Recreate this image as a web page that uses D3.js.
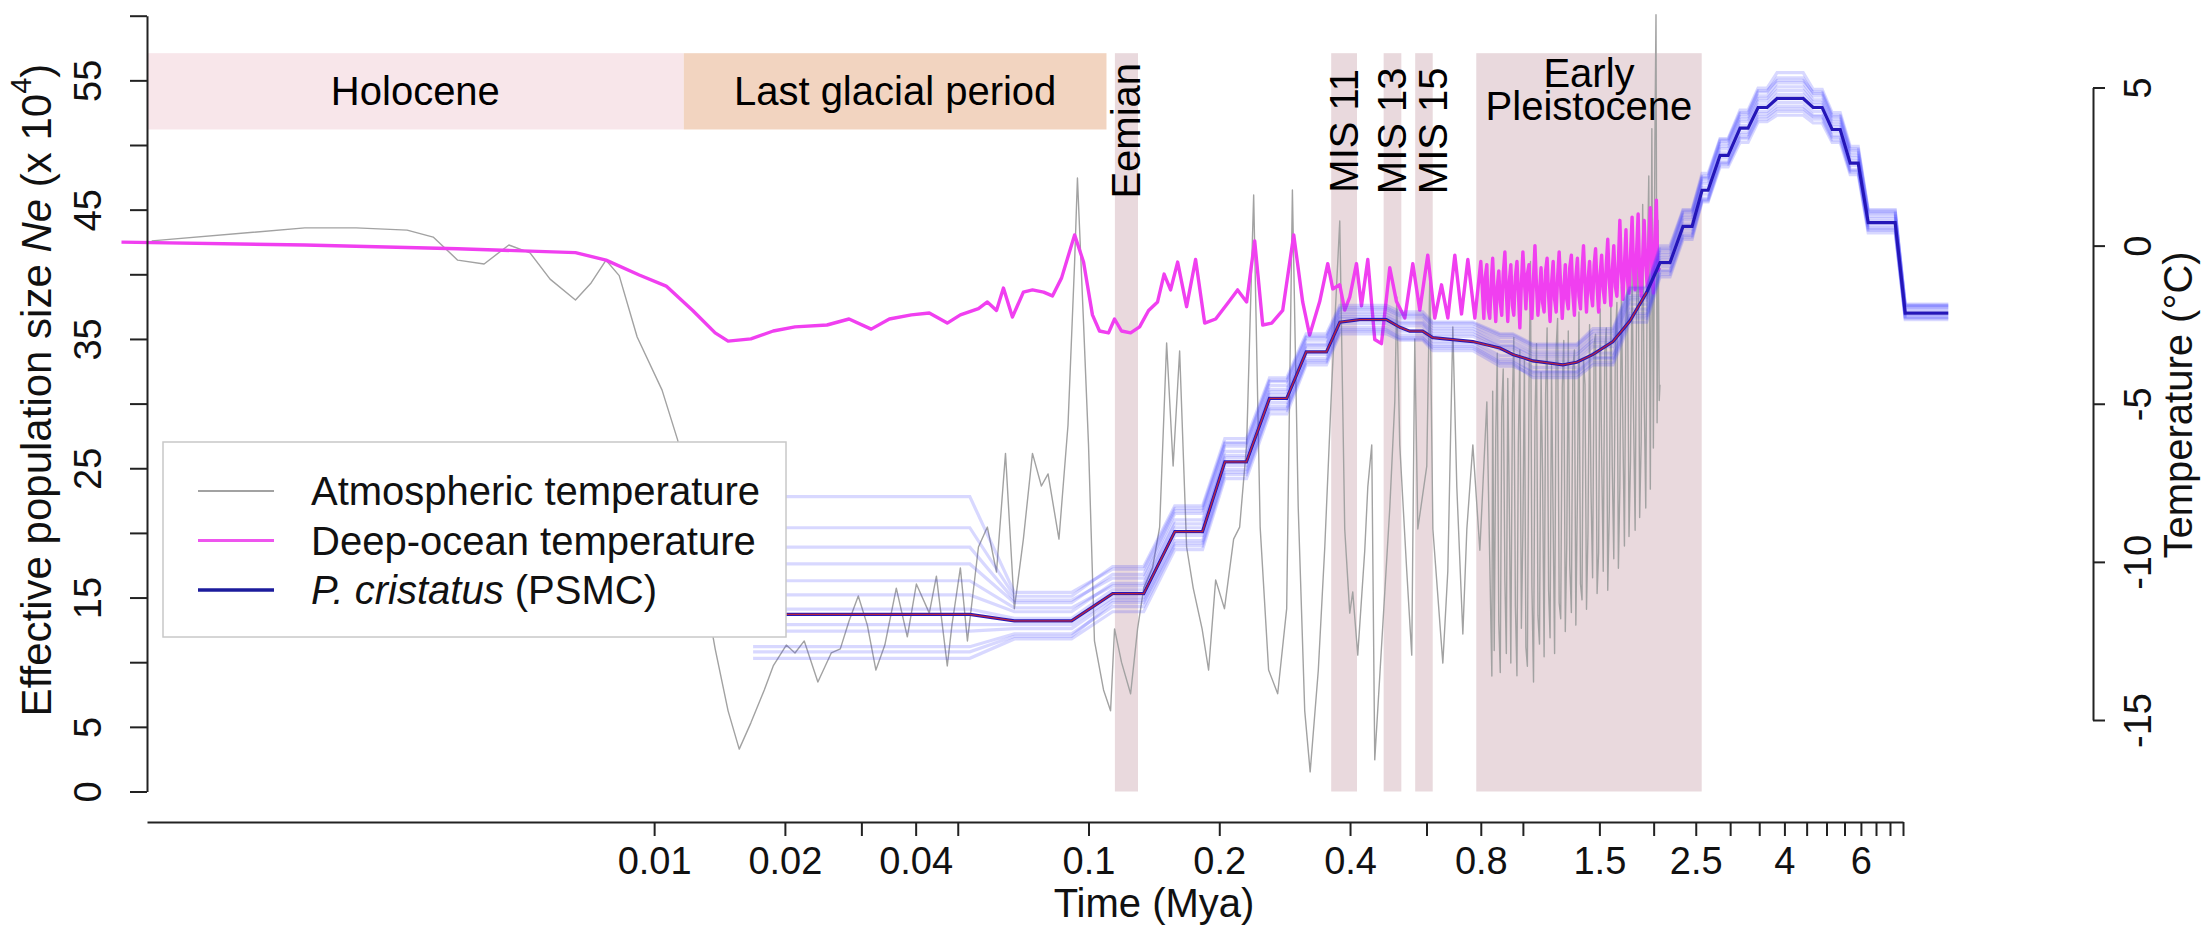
<!DOCTYPE html>
<html>
<head>
<meta charset="utf-8">
<script src="https://cdn.jsdelivr.net/npm/d3@7"></script>
<style>
  body { margin: 0; background: #fff; }
  svg { display: block; font-family: "Liberation Sans", Arial, Helvetica, sans-serif; }
</style>
</head>
<body>
<div id="wrapper"></div>
<script>
// ---- data (time in Mya, Ne in x 10^4, temperature in °C) ----

// climate periods shown as shaded bands
const periodNames = ["Holocene", "Last glacial period", "Eemian", "MIS 11", "MIS 13", "MIS 15", "Early Pleistocene"]
const periodStart = [0.00068, 0.0117, 0.115, 0.362, 0.478, 0.565, 0.781]
const periodEnd = [0.0117, 0.11, 0.13, 0.415, 0.525, 0.62, 2.58]
const periodNeLow = [51.2, 51.2, 0, 0, 0, 0, 0]
const periodNeHigh = [57.1, 57.1, 57.1, 57.1, 57.1, 57.1, 57.1]

// axis ticks
const xTicks = [0.01, 0.02, 0.03, 0.04, 0.05, 0.1, 0.2, 0.4, 0.6, 0.8, 1, 1.5, 2, 2.5, 3, 3.5, 4, 4.5, 5, 5.5, 6, 6.5, 7, 7.5]
const xTickLabels = [0.01, 0.02, 0.04, 0.1, 0.2, 0.4, 0.8, 1.5, 2.5, 4, 6]
const yTicks = [0, 5, 10, 15, 20, 25, 30, 35, 40, 45, 50, 55, 60]
const yTickLabels = [0, 5, 15, 25, 35, 45, 55]
const tempTicks = [-15, -10, -5, 0, 5]

// atmospheric temperature [time, °C]
const atmosphericTemp = [
  [0.000697, 0.15], [0.00157, 0.56], [0.00206, 0.56], [0.0027, 0.49], [0.0031, 0.27], [0.00353, -0.46],
  [0.00406, -0.58], [0.00463, 0.02], [0.00518, -0.23], [0.00576, -1.06], [0.00659, -1.72], [0.00716, -1.18],
  [0.00775, -0.46], [0.00831, -0.95], [0.00914, -2.89], [0.01043, -4.57], [0.01133, -6.15], [0.01256, -9.53],
  [0.01382, -12.75], [0.0148, -14.71], [0.0157, -15.92], [0.0167, -15.09], [0.01793, -14.05], [0.0188, -13.29],
  [0.02015, -12.63], [0.0211, -12.88], [0.02216, -12.5], [0.02382, -13.8], [0.02557, -12.88], [0.02683, -12.75],
  [0.0281, -11.87], [0.02951, -11.08], [0.03096, -12.0], [0.0324, -13.42], [0.03397, -12.63], [0.0361, -10.83],
  [0.03827, -12.37], [0.04015, -10.7], [0.043, -11.62], [0.04465, -10.45], [0.0473, -13.29], [0.04849, -11.99],
  [0.0507, -10.19], [0.05263, -12.5], [0.0558, -9.53], [0.0585, -8.9], [0.0614, -10.32], [0.0644, -6.57],
  [0.0675, -11.48], [0.0708, -9.28], [0.0743, -6.57], [0.0779, -7.6], [0.0807, -7.22], [0.0855, -9.28],
  [0.0897, -5.67], [0.0929, -0.52], [0.0943, 2.14], [0.0974, -2.45], [0.1, -6.3], [0.1032, -12.5],
  [0.1083, -14.05], [0.1124, -14.71], [0.1148, -12.12], [0.1191, -13.17], [0.125, -14.17], [0.1297, -12.12],
  [0.134, -10.83], [0.1404, -10.19], [0.1458, -8.9], [0.1513, -3.08], [0.1566, -6.97], [0.1621, -3.33],
  [0.1682, -9.53], [0.1742, -10.83], [0.1826, -12.12], [0.189, -13.42], [0.1962, -10.57], [0.2056, -11.48],
  [0.2158, -9.28], [0.2228, -8.9], [0.2312, -6.3], [0.24, 1.6], [0.2484, -8.9], [0.2598, -13.42],
  [0.2726, -14.17], [0.2859, -11.48], [0.2947, 1.76], [0.3039, -8.25], [0.3146, -14.71], [0.3238, -16.64],
  [0.3381, -13.42], [0.3499, -9.53], [0.3631, -4.38], [0.3788, 0.78], [0.3889, -8.96], [0.3994, -11.62],
  [0.4058, -10.95], [0.4167, -12.95], [0.4325, -9.63], [0.4395, -7.63], [0.4488, -6.3], [0.456, -16.26],
  [0.4683, -13.61], [0.4809, -10.95], [0.4938, -8.3], [0.5071, -4.94], [0.5125, -1.62], [0.5206, -6.3],
  [0.5403, -10.29], [0.5548, -12.95], [0.5638, -2.95], [0.5729, -8.96], [0.6008, -6.97], [0.6105, -0.96],
  [0.6205, -8.96], [0.6542, -13.2], [0.6717, -10.29], [0.6897, -2.57], [0.7045, -7.63], [0.7274, -12.28],
  [0.743, -8.96], [0.767, -6.3], [0.796, -9.63], [0.8261, -4.94], [0.8483, -13.61],
  [0.852, -4.6], [0.859, -12.8], [0.866, -6.0], [0.873, -3.4], [0.88, -11.9], [0.887, -13.5], [0.894, -5.1],
  [0.901, -3.9], [0.909, -10.6], [0.916, -12.9], [0.923, -4.2], [0.931, -8.5], [0.938, -13.2], [0.946, -4.8],
  [0.953, -2.9], [0.961, -11.4], [0.969, -13.6], [0.976, -6.3], [0.984, -3.3], [0.992, -12.1], [1.0, -9.0],
  [1.008, -3.6], [1.016, -12.7], [1.024, -13.3], [1.033, -4.4], [1.041, -0.5], [1.049, -10.8], [1.058, -13.8],
  [1.066, -5.5], [1.075, -3.1], [1.083, -11.7], [1.092, -12.6], [1.101, -4.0], [1.11, -7.2], [1.119, -13.0],
  [1.128, -4.7], [1.137, -2.6], [1.146, -10.9], [1.155, -12.4], [1.164, -3.8], [1.174, -8.8], [1.183, -12.9],
  [1.193, -3.2], [1.202, -2.3], [1.212, -11.3], [1.222, -11.8], [1.232, -4.5], [1.242, -3.0], [1.252, -12.2],
  [1.262, -9.4], [1.272, -2.7], [1.282, -10.1], [1.293, -11.6], [1.303, -3.9], [1.314, -3.3], [1.324, -12.0],
  [1.335, -8.0], [1.346, -2.1], [1.357, -10.7], [1.368, -11.2], [1.379, -3.6], [1.39, -4.4], [1.401, -11.5],
  [1.412, -9.1], [1.424, -2.5], [1.435, -7.8], [1.447, -10.5], [1.459, -3.1], [1.47, -2.8], [1.482, -11.0],
  [1.494, -9.7], [1.506, -2.0], [1.518, -6.5], [1.531, -10.3], [1.543, -3.4], [1.556, -2.6], [1.568, -10.9],
  [1.581, -8.4], [1.594, -1.6], [1.606, -7.0], [1.619, -9.9], [1.633, -2.9], [1.646, -1.8], [1.659, -10.2],
  [1.672, -7.6], [1.686, -1.3], [1.7, -6.1], [1.713, -9.5], [1.727, -2.4], [1.741, -1.0], [1.755, -9.2],
  [1.769, -6.8], [1.784, -0.6], [1.798, -5.4], [1.813, -9.0], [1.827, -1.9], [1.842, 0.4], [1.857, -8.6],
  [1.872, -6.2], [1.887, 1.3], [1.902, -4.8], [1.918, -8.3], [1.933, -0.9], [1.949, 2.2], [1.965, -7.7],
  [1.981, 3.7], [1.997, -6.4], [2.013, 3.2], [2.025, 7.3], [2.037, -5.6], [2.048, 0.8], [2.06, -4.9], [2.068, -4.4]
]

// deep-ocean temperature [time, °C]
const deepOceanTemp = [
  [0.000594, 0.11], [0.00157, 0.02], [0.00353, -0.1], [0.00659, -0.22], [0.00775, -0.46], [0.00924, -0.93],
  [0.01066, -1.28], [0.01227, -2.05], [0.01382, -2.76], [0.0148, -3.02], [0.0167, -2.95], [0.0188, -2.7],
  [0.0211, -2.57], [0.025, -2.51], [0.0281, -2.32], [0.0316, -2.64], [0.0348, -2.32], [0.0391, -2.19],
  [0.043, -2.13], [0.0473, -2.45], [0.0507, -2.19], [0.0558, -1.99], [0.0585, -1.78], [0.0614, -2.05],
  [0.0637, -1.34], [0.0668, -2.26], [0.0708, -1.47], [0.0743, -1.4], [0.0788, -1.47], [0.0826, -1.59],
  [0.0867, -1.02], [0.0929, 0.34], [0.0974, -0.52], [0.1021, -2.19], [0.106, -2.7], [0.1112, -2.76],
  [0.1148, -2.32], [0.1191, -2.7], [0.125, -2.76], [0.1311, -2.57], [0.1375, -2.05], [0.1442, -1.78],
  [0.1493, -0.9], [0.1545, -1.4], [0.1604, -0.52], [0.1682, -1.93], [0.1764, -0.44], [0.1851, -2.45],
  [0.1962, -2.32], [0.2102, -1.78], [0.2204, -1.4], [0.2312, -1.78], [0.2413, 0.15], [0.2518, -2.51],
  [0.2641, -2.45], [0.2799, -2.05], [0.2968, 0.34], [0.3112, -1.78], [0.3229, -2.83], [0.3406, -1.77],
  [0.3554, -0.57], [0.365, -1.37], [0.3788, -1.24], [0.3889, -2.04], [0.3994, -1.63], [0.4139, -0.57],
  [0.425, -1.9], [0.4395, -0.44], [0.456, -2.97], [0.4725, -3.1], [0.4938, -0.7], [0.5117, -1.77],
  [0.5348, -2.29], [0.5579, -0.57], [0.579, -2.04], [0.604, -0.3], [0.6268, -2.29], [0.6496, -1.24],
  [0.6717, -2.29], [0.6971, -0.3], [0.7223, -2.16], [0.7469, -0.44], [0.7752, -2.29],
  [0.8, -0.5], [0.806, -1.3], [0.813, -2.3], [0.819, -1.0], [0.826, -0.6], [0.832, -2.0], [0.839, -2.3],
  [0.846, -1.1], [0.852, -0.4], [0.859, -1.6], [0.866, -2.4], [0.873, -1.3], [0.88, -0.8], [0.887, -1.8],
  [0.894, -2.2], [0.901, -0.9], [0.909, -0.2], [0.916, -1.5], [0.923, -2.4], [0.931, -1.1], [0.938, -0.6],
  [0.946, -1.9], [0.953, -2.2], [0.961, -1.0], [0.969, -0.5], [0.976, -1.4], [0.984, -2.6], [0.992, -1.2],
  [1.0, -0.2], [1.008, -1.1], [1.016, -2.0], [1.024, -0.9], [1.033, -0.6], [1.041, -1.7], [1.049, -2.3],
  [1.058, -1.0], [1.066, 0.0], [1.075, -1.3], [1.083, -2.2], [1.092, -1.5], [1.101, -0.7], [1.11, -1.8],
  [1.119, -2.1], [1.128, -0.8], [1.137, -0.4], [1.146, -1.6], [1.155, -2.4], [1.164, -1.2], [1.174, -0.5],
  [1.183, -1.7], [1.193, -2.1], [1.202, -1.0], [1.212, -0.2], [1.222, -1.3], [1.232, -2.3], [1.242, -1.4],
  [1.252, -0.6], [1.262, -1.7], [1.272, -2.0], [1.282, -0.7], [1.293, -0.3], [1.303, -1.5], [1.314, -2.2],
  [1.324, -1.0], [1.335, -0.4], [1.346, -1.6], [1.357, -2.0], [1.368, -0.8], [1.379, 0.0], [1.39, -1.2],
  [1.401, -2.1], [1.412, -1.1], [1.424, -0.5], [1.435, -1.5], [1.447, -1.9], [1.459, -0.6], [1.47, -0.1],
  [1.482, -1.3], [1.494, -2.1], [1.506, -0.9], [1.518, -0.3], [1.531, -1.4], [1.543, -1.8], [1.556, -0.6],
  [1.568, 0.2], [1.581, -1.1], [1.594, -1.9], [1.606, -0.8], [1.619, 0.0], [1.633, -1.3], [1.646, -1.6],
  [1.659, -0.5], [1.672, 0.8], [1.686, -0.9], [1.7, -1.7], [1.713, -0.6], [1.727, 0.5], [1.741, -1.1],
  [1.755, -1.5], [1.769, -0.3], [1.784, 0.9], [1.798, -0.8], [1.813, -1.4], [1.827, -0.2], [1.842, 1.0],
  [1.857, -0.9], [1.872, -1.6], [1.887, -0.4], [1.902, 0.8], [1.918, -0.6], [1.933, -1.3], [1.949, 0.0],
  [1.965, 1.2], [1.981, -0.7], [1.997, -1.5], [2.013, 0.3], [2.029, 1.44], [2.045, -0.8], [2.062, -0.7]
]

// P. cristatus PSMC estimate [time, Ne]
const psmcMain = [
  [0.0169, 13.7], [0.0533, 13.7], [0.0675, 13.2], [0.0914, 13.2], [0.1136, 15.3], [0.134, 15.3],
  [0.158, 20.1], [0.183, 20.1], [0.206, 25.5], [0.231, 25.5], [0.261, 30.4], [0.286, 30.4],
  [0.317, 34.0], [0.353, 34.0], [0.379, 36.3], [0.421, 36.5], [0.485, 36.5], [0.521, 35.9],
  [0.549, 35.6], [0.588, 35.6], [0.62, 35.1], [0.767, 34.8], [0.885, 34.3], [0.948, 33.8],
  [1.055, 33.3], [1.236, 33.0], [1.331, 33.2], [1.45, 33.8], [1.612, 34.8], [1.764, 36.4],
  [1.927, 38.6], [2.069, 40.9], [2.181, 40.9], [2.337, 43.7], [2.452, 43.7], [2.585, 46.5],
  [2.669, 46.5], [2.844, 49.2], [2.968, 49.2], [3.162, 51.3], [3.299, 51.3], [3.479, 52.9],
  [3.649, 52.9], [3.848, 53.6], [4.418, 53.6], [4.658, 52.9], [4.886, 52.9], [5.152, 51.2],
  [5.376, 51.2], [5.669, 48.6], [5.914, 48.6], [6.237, 44.0], [7.195, 44.0], [7.589, 37.0],
  [9.535, 37.0]
]

// bootstrap replicates: one Ne value per flat segment
const bootSegStart = [0.0169, 0.0675, 0.1136, 0.158, 0.206, 0.261, 0.317, 0.379, 0.521, 0.62, 0.885, 1.055, 1.45,
  1.764, 2.069, 2.337, 2.585, 2.844, 3.162, 3.479, 3.848, 4.658, 5.152, 5.669, 6.237, 7.589]
const bootSegEnd = [0.0533, 0.0914, 0.134, 0.183, 0.231, 0.286, 0.353, 0.485, 0.588, 0.767, 0.948, 1.331, 1.612,
  1.927, 2.181, 2.452, 2.669, 2.968, 3.299, 3.649, 4.418, 4.886, 5.376, 5.914, 7.195, 9.535]
const bootstrapNe = [
  [12.4, 12.6, 14.8, 19.4, 24.9, 29.8, 33.5, 35.9, 35.3, 34.6, 33.4, 32.5, 33.6, 37.0, 40.3, 43.2, 45.9, 48.7, 50.8, 52.4, 53.0, 52.3, 50.7, 48.1, 43.6, 36.7],
  [15.2, 13.9, 16.1, 21.0, 26.3, 31.1, 34.6, 36.9, 36.3, 35.6, 34.5, 33.8, 34.9, 38.2, 41.5, 44.4, 47.2, 49.9, 52.0, 53.6, 54.5, 53.5, 51.8, 49.2, 44.5, 37.4],
  [10.3, 11.8, 13.9, 18.7, 24.2, 29.2, 33.0, 35.4, 34.9, 34.1, 32.9, 32.2, 33.2, 36.6, 40.0, 42.9, 45.7, 48.5, 50.5, 52.0, 52.6, 52.0, 50.4, 47.9, 43.4, 36.6],
  [17.6, 14.6, 16.8, 21.7, 26.9, 31.7, 35.1, 37.3, 36.8, 36.0, 35.1, 34.3, 35.4, 38.7, 41.9, 44.8, 47.5, 50.3, 52.4, 54.1, 55.2, 54.0, 52.2, 49.6, 44.8, 37.6],
  [11.2, 12.2, 14.3, 19.0, 24.5, 29.5, 33.2, 35.6, 35.0, 34.3, 33.1, 32.0, 33.0, 36.3, 39.8, 42.7, 45.6, 48.3, 50.2, 51.8, 52.3, 51.7, 50.2, 47.7, 43.2, 36.5],
  [20.4, 15.1, 17.4, 22.1, 27.3, 32.0, 35.4, 37.6, 37.1, 36.3, 35.4, 34.6, 35.8, 39.0, 42.2, 45.0, 47.8, 50.5, 52.7, 54.4, 55.6, 54.3, 52.5, 49.9, 45.0, 37.7],
  [14.1, 13.4, 15.6, 20.4, 25.8, 30.7, 34.3, 36.6, 36.0, 35.2, 34.2, 33.3, 34.4, 37.7, 41.1, 43.9, 46.7, 49.4, 51.5, 53.1, 53.9, 53.1, 51.4, 48.8, 44.1, 37.1],
  [10.8, 12.0, 14.6, 19.2, 24.7, 29.6, 33.3, 35.7, 35.1, 34.4, 33.2, 32.4, 33.5, 36.8, 40.2, 43.0, 45.8, 48.6, 50.6, 52.2, 52.8, 52.2, 50.6, 48.0, 43.5, 36.7],
  [18.9, 14.8, 16.5, 21.5, 26.7, 31.4, 34.9, 37.1, 36.6, 35.8, 34.8, 34.0, 35.1, 38.4, 41.7, 44.6, 47.4, 50.1, 52.2, 53.8, 54.8, 53.8, 52.0, 49.4, 44.7, 37.5],
  [12.9, 12.9, 15.0, 19.8, 25.2, 30.1, 33.8, 36.2, 35.6, 34.8, 33.7, 32.8, 33.9, 37.3, 40.6, 43.5, 46.2, 49.0, 51.0, 52.6, 53.3, 52.6, 51.0, 48.4, 43.8, 36.9],
  [22.8, 15.4, 17.2, 21.9, 27.0, 31.8, 35.2, 37.4, 36.9, 36.2, 35.3, 34.5, 35.6, 38.9, 42.0, 44.9, 47.6, 50.4, 52.5, 54.2, 55.0, 54.1, 52.3, 49.7, 44.9, 37.6],
  [16.3, 14.2, 15.9, 20.7, 26.0, 30.9, 34.5, 36.7, 36.2, 35.4, 34.4, 33.6, 34.7, 38.0, 41.3, 44.2, 47.0, 49.7, 51.8, 53.4, 54.2, 53.3, 51.6, 49.0, 44.3, 37.3]
]

function drawChart() {
  // 1. dimensions
  let dimensions = {
    width: 2207,
    height: 927,
    xLeft: 147,      // left axis line
    xRight: 1903,    // end of time axis
    yAxisX: 2093,    // right temperature axis
    yTop: 15.7,
    yBottom: 791.5,
    xAxisY: 822
  }

  const colors = {
    holocene: "#f8e6ea",
    glacial: "#f2d4c0",
    interglacial: "#e9d9dd",
    atmos: "#a2a2a2",
    ocean: "#f03ff0",
    boot: "#3c3cff",
    psmc: "#2416b8",
    red: "#d42a2a"
  }

  // 2. canvas
  const svg = d3.select("#wrapper")
    .append("svg")
      .attr("width", dimensions.width)
      .attr("height", dimensions.height)
  svg.append("rect")
      .attr("width", dimensions.width)
      .attr("height", dimensions.height)
      .attr("fill", "#fff")

  // 3. scales
  const xScale = d3.scaleLog()
    .domain([0.00068, 7.5])
    .range([dimensions.xLeft, dimensions.xRight])
  const yScale = d3.scaleLinear()
    .domain([0, 60])
    .range([dimensions.yBottom, dimensions.yTop])
  const tScale = d3.scaleLinear()
    .domain([-15, 5])
    .range([720, 87.5])

  // 4. period bands
  const periods = periodNames.map((name, i) => ({
    name, start: periodStart[i], end: periodEnd[i], lo: periodNeLow[i], hi: periodNeHigh[i]
  }))
  const bandFill = i => i == 0 ? colors.holocene : i == 1 ? colors.glacial : colors.interglacial
  svg.append("g").selectAll("rect")
    .data(periods)
    .join("rect")
      .attr("x", d => xScale(d.start))
      .attr("width", d => xScale(d.end) - xScale(d.start))
      .attr("y", d => yScale(d.hi))
      .attr("height", d => yScale(d.lo) - yScale(d.hi))
      .attr("fill", (d, i) => bandFill(i))

  // 5. data lines
  const tempLine = d3.line()
    .x(d => xScale(d[0]))
    .y(d => tScale(d[1]))
  const neLine = d3.line()
    .x(d => xScale(d[0]))
    .y(d => yScale(d[1]))

  svg.append("path")
      .attr("d", tempLine(atmosphericTemp))
      .attr("fill", "none")
      .attr("stroke", colors.atmos)
      .attr("stroke-width", 1.4)
      .attr("stroke-linejoin", "round")

  svg.append("path")
      .attr("d", tempLine(deepOceanTemp))
      .attr("fill", "none")
      .attr("stroke", colors.ocean)
      .attr("stroke-width", 3.4)
      .attr("stroke-linejoin", "round")

  const bootLines = bootstrapNe.map(row => {
    const pts = []
    row.forEach((v, i) => {
      pts.push([bootSegStart[i], v])
      pts.push([bootSegEnd[i], v])
    })
    return pts
  })
  svg.append("g").selectAll("path")
    .data(bootLines)
    .join("path")
      .attr("d", neLine)
      .attr("fill", "none")
      .attr("stroke", colors.boot)
      .attr("stroke-opacity", 0.2)
      .attr("stroke-width", 3.2)

  svg.append("path")
      .attr("d", neLine(psmcMain))
      .attr("fill", "none")
      .attr("stroke", colors.psmc)
      .attr("stroke-width", 3.2)
  svg.append("path")
      .attr("d", neLine(psmcMain.filter(d => d[0] <= 1.93)))
      .attr("fill", "none")
      .attr("stroke", colors.red)
      .attr("stroke-opacity", 0.85)
      .attr("stroke-width", 1.3)

  // 6. period labels
  const labelSize = 40
  const horiz = periods.slice(0, 2)
  svg.append("g").selectAll("text")
    .data(horiz)
    .join("text")
      .attr("x", d => (xScale(d.start) + xScale(d.end)) / 2)
      .attr("y", d => (yScale(d.lo) + yScale(d.hi)) / 2)
      .attr("text-anchor", "middle")
      .attr("dominant-baseline", "central")
      .attr("font-size", labelSize)
      .text(d => d.name)

  // MIS 15 label sits a little right of its band in the original
  const nudge = { "MIS 15": 9 }
  const vert = periods.slice(2, 6)
  svg.append("g").selectAll("text")
    .data(vert)
    .join("text")
      .attr("transform", d => `translate(${(xScale(d.start) + xScale(d.end)) / 2 + (nudge[d.name] || 0)},${yScale(51.1)}) rotate(-90)`)
      .attr("text-anchor", "middle")
      .attr("dominant-baseline", "central")
      .attr("font-size", labelSize)
      .text(d => d.name)

  const ep = periods[6]
  const epX = (xScale(ep.start) + xScale(ep.end)) / 2
  const epLabel = svg.append("text")
      .attr("text-anchor", "middle")
      .attr("font-size", labelSize)
  epLabel.append("tspan").attr("x", epX).attr("y", 87).text("Early")
  epLabel.append("tspan").attr("x", epX).attr("y", 120).text("Pleistocene")

  // 7. axes
  const styleAxis = g => {
    g.attr("font-size", 38)
      .attr("font-family", null)
    g.select(".domain").attr("stroke", "#222").attr("stroke-width", 2)
    g.selectAll(".tick line").attr("stroke", "#222").attr("stroke-width", 2)
    g.selectAll(".tick text").attr("fill", "#111")
  }

  const xAxis = d3.axisBottom(xScale)
    .tickValues(xTicks)
    .tickFormat(d => xTickLabels.includes(d) ? String(d) : "")
    .tickSize(14)
    .tickPadding(11)
    .tickSizeOuter(0)
  svg.append("g")
      .attr("transform", `translate(0,${dimensions.xAxisY})`)
      .call(xAxis)
      .call(styleAxis)

  const yAxis = d3.axisLeft(yScale)
    .tickValues(yTicks)
    .tickFormat(d => yTickLabels.includes(d) ? String(d) : "")
    .tickSize(17)
    .tickSizeOuter(0)
  const yAxisG = svg.append("g")
      .attr("transform", `translate(${dimensions.xLeft},0)`)
      .call(yAxis)
      .call(styleAxis)
  yAxisG.selectAll(".tick text")
      .attr("x", null)
      .attr("dy", null)
      .attr("text-anchor", "middle")
      .attr("dominant-baseline", "central")
      .attr("transform", "translate(-59,0) rotate(-90)")

  const tAxis = d3.axisRight(tScale)
    .tickValues(tempTicks)
    .tickFormat(d => String(d))
    .tickSize(12)
    .tickSizeOuter(0)
  const tAxisG = svg.append("g")
      .attr("transform", `translate(${dimensions.yAxisX},0)`)
      .call(tAxis)
      .call(styleAxis)
  tAxisG.selectAll(".tick text")
      .attr("x", null)
      .attr("dy", null)
      .attr("text-anchor", "middle")
      .attr("dominant-baseline", "central")
      .attr("transform", "translate(45,0) rotate(-90)")

  // axis titles
  svg.append("text")
      .attr("x", 1154)
      .attr("y", 917)
      .attr("text-anchor", "middle")
      .attr("font-size", 40)
      .attr("fill", "#111")
      .text("Time (Mya)")

  const yTitle = svg.append("text")
      .attr("transform", "translate(36,390) rotate(-90)")
      .attr("text-anchor", "middle")
      .attr("dominant-baseline", "central")
      .attr("font-size", 42)
      .attr("fill", "#111")
  yTitle.append("tspan").text("Effective population size ")
  yTitle.append("tspan").attr("font-style", "italic").text("Ne")
  yTitle.append("tspan").text(" (x 10")
  yTitle.append("tspan").attr("font-size", 29).attr("dy", -15).text("4")
  yTitle.append("tspan").attr("dy", 15).text(")")

  svg.append("text")
      .attr("transform", "translate(2178,405) rotate(-90)")
      .attr("text-anchor", "middle")
      .attr("dominant-baseline", "central")
      .attr("font-size", 40)
      .attr("fill", "#111")
      .text("Temperature (°C)")

  // 8. legend
  const legend = svg.append("g")
  legend.append("rect")
      .attr("x", 163).attr("y", 442)
      .attr("width", 623).attr("height", 195)
      .attr("fill", "#fff")
      .attr("stroke", "#c8c8c8")
      .attr("stroke-width", 1.5)
  const legendItems = [
    { color: colors.atmos, width: 2.2 },
    { color: "#ee55ee", width: 3 },
    { color: "#1c1c9c", width: 3.5 }
  ]
  legendItems.forEach((item, i) => {
    const y = 491 + i * 49.5
    legend.append("line")
        .attr("x1", 198).attr("x2", 274)
        .attr("y1", y).attr("y2", y)
        .attr("stroke", item.color)
        .attr("stroke-width", item.width)
    const t = legend.append("text")
        .attr("x", 311).attr("y", y)
        .attr("dominant-baseline", "central")
        .attr("font-size", 40)
        .attr("fill", "#111")
    if (i == 0) t.text("Atmospheric temperature")
    if (i == 1) t.text("Deep-ocean temperature")
    if (i == 2) {
      t.append("tspan").attr("font-style", "italic").text("P. cristatus")
      t.append("tspan").text(" (PSMC)")
    }
  })
}

drawChart()
</script>
</body>
</html>
